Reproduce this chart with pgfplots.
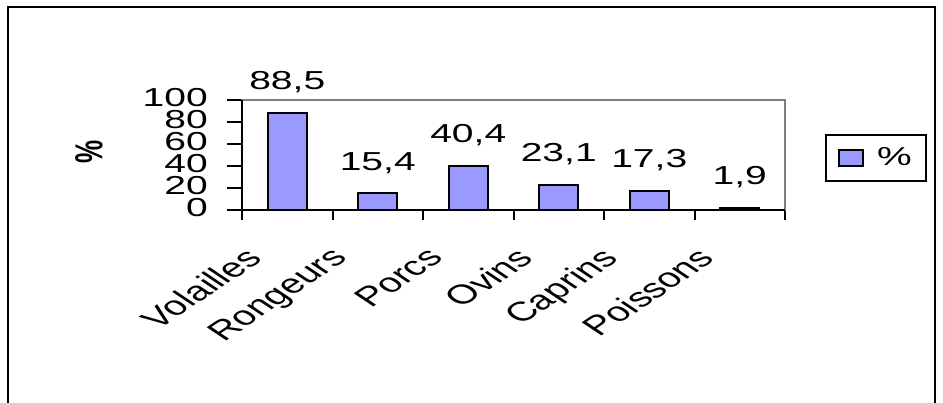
\documentclass[border=0pt]{standalone}
\usepackage{pgfplots}
\pgfplotsset{compat=1.18}
\usepackage{pgfplotstable}
\usepackage{fontspec}
\setmainfont{Liberation Sans}
\usepackage{graphicx}
\definecolor{barfill}{HTML}{9999FF}
\definecolor{framegray}{HTML}{808080}
\newcommand\W[1]{\scalebox{1.5}[1]{#1}}
\newcommand\XL[1]{\scalebox{1.5}[1]{\rotatebox{45}{\fontsize{27}{32}\selectfont #1}}}
\pgfplotstableread{
x y label
0 88.5 88,5
1 15.4 15,4
2 40.4 40,4
3 23.1 23,1
4 17.3 17,3
5 1.9 1,9
}\datatable
\begin{document}
\fontsize{26}{31}\selectfont
\begin{tikzpicture}[x=1pt,y=1pt]
\path[use as bounding box] (0,0) rectangle (943,403);
\draw[line width=2pt] (8,-10) -- (8,396) -- (935,396) -- (935,-10);
\begin{axis}[
  at={(242pt,193pt)}, anchor=south west,
  scale only axis, width=543pt, height=110pt,
  xmin=-0.5, xmax=5.5, ymin=0, ymax=100,
  clip=false,
  ytick={0,20,...,100},
  minor ytick={0,20,...,100},
  yticklabel={\W{\pgfmathprintnumber[assume math mode=true]{\tick}}},
  xtick={-0.5,0.5,...,5.5},
  xticklabels={\XL{Volailles},\XL{Rongeurs},\XL{Porcs},\XL{Ovins},\XL{Caprins},\XL{Poissons},{}},
  tick pos=left, tick align=outside,
  major tick length=10pt, minor tick length=15pt,
  tick style={black, line width=2pt},
  axis line style={draw=framegray, line width=2pt},
  xticklabel style={anchor=north east, inner sep=0pt, xshift=22pt, yshift=-26pt},
  yticklabel style={anchor=east, inner sep=0pt, xshift=-24pt, yshift=2pt},
  ylabel={\W{\rotatebox{90}{\bfseries\%}}},
  ylabel style={rotate=-90, at={(axis description cs:-0.2818,0.527)}, anchor=center},
  ybar, bar width=39pt,
  point meta=explicit symbolic,
  nodes near coords={\W{\pgfplotspointmeta}},
  every node near coord/.append style={anchor=base, inner sep=0pt, yshift=23pt, black},
  legend image code/.code={\draw[fill=barfill, draw=black, line width=2pt] (0pt,-8pt) rectangle (24pt,8pt);},
  legend style={at={(axis description cs:1.0737,0.691)}, anchor=north west,
    draw=black, line width=2pt, inner xsep=12pt, inner ysep=10pt,
    column sep=11pt},
]
\addplot[fill=barfill, draw=black, line width=2pt] table[x=x, y=y, meta=label] {\datatable};
\addlegendentry{\W{\%}}
\draw[black, line width=2pt] (rel axis cs:0,1) -- (rel axis cs:0,0) -- (rel axis cs:1,0);
\end{axis}
\end{tikzpicture}
\end{document}
